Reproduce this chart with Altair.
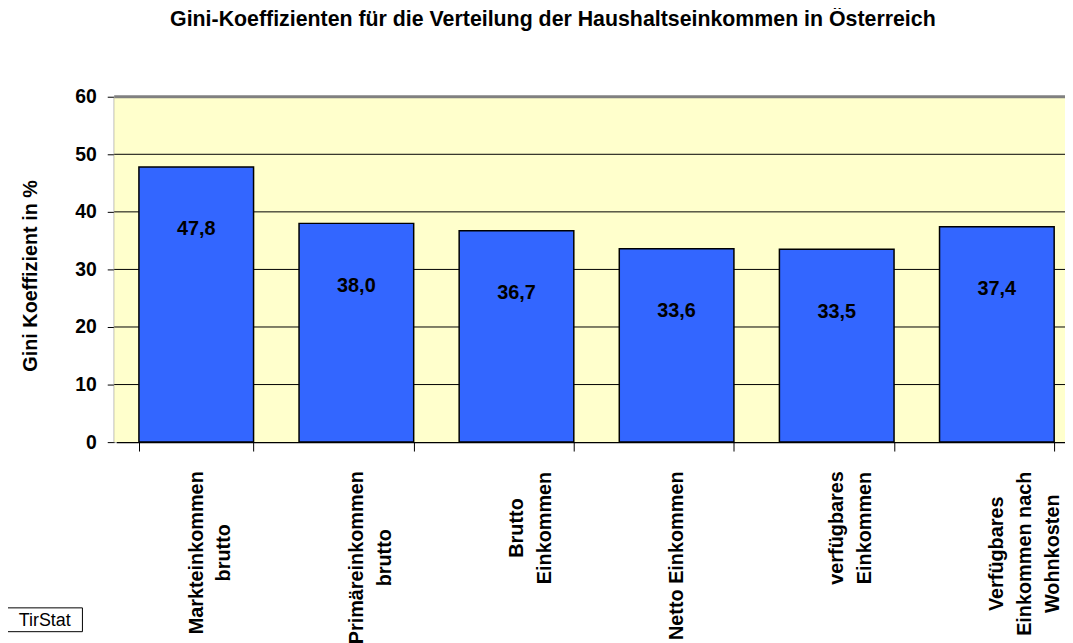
import altair as alt
import pandas as pd

# ---- data ----
categories = [
    "Markteinkommen|brutto",
    "Primäreinkommen|brutto",
    "Brutto|Einkommen",
    "Netto Einkommen",
    "verfügbares|Einkommen",
    "Verfügbares|Einkommen nach|Wohnkosten",
]
gini_values = [47.8, 38.0, 36.7, 33.6, 33.5, 37.4]
y_ticks = [0, 10, 20, 30, 40, 50, 60]
chart_title = "Gini-Koeffizienten für die Verteilung der Haushaltseinkommen in Österreich"
y_title = "Gini Koeffizient in %"
source_note = "TirStat"

df = pd.DataFrame({"kategorie": categories, "gini": gini_values})
grid_df = pd.DataFrame({"v": y_ticks})

FONT = "Liberation Sans"
Y_SCALE = alt.Scale(domain=[0, 60], nice=False)

# per-label padding so that every rotated label block starts at the same distance
label_padding = [102, 107, 77, 105, 77, 103]
pad_cond = [
    {"test": "datum.value === " + repr(c), "value": p}
    for c, p in zip(categories, label_padding)
]

x_axis = alt.Axis(
    title=None,
    labelAngle=270,
    labelAlign="center",
    labelBaseline="middle",
    labelExpr="split(datum.label, '|')",
    labelFontSize=20,
    labelFontWeight="bold",
    labelFont=FONT,
    labelColor="black",
    labelLineHeight=28,
    labelLimit=0,
    labelOverlap=False,
    labelPadding={"condition": pad_cond, "value": 100},
    tickBand="extent",
    tickSize=9,
    tickColor="black",
    tickWidth=1,
    domainColor="black",
    domainWidth=1.5,
)

y_axis = alt.Axis(
    title=y_title,
    values=y_ticks,
    grid=False,
    tickSize=7,
    tickColor="black",
    labelFontSize=19.5,
    labelFontWeight="bold",
    labelFont=FONT,
    labelColor="black",
    labelPadding=11,
    domainColor="#808080",
    domainWidth=2,
    titleFontSize=20,
    titleFontWeight="bold",
    titleFont=FONT,
    titleColor="black",
    titleAngle=270,
    titleAlign="center",
    titleBaseline="middle",
    titleX=-84,
    titleY=180,
)

# plot-area background
plot_bg = alt.Chart(alt.Data(values=[{}])).mark_rect(fill="#FFFFCC").encode(
    x=alt.value(0), x2=alt.value("width"), y=alt.value(0), y2=alt.value("height")
)

# horizontal gridlines (top one is the grey plot-area border)
grid_inner = alt.Chart(grid_df).transform_filter("datum.v > 0 && datum.v < 60").mark_rule(
    color="black", strokeWidth=1
).encode(y=alt.Y("v:Q", scale=Y_SCALE, axis=y_axis))
grid_top = alt.Chart(grid_df).transform_filter("datum.v == 60").mark_rule(
    color="#808080", strokeWidth=3
).encode(y=alt.Y("v:Q", scale=Y_SCALE, axis=y_axis))

base = alt.Chart(df).encode(
    x=alt.X(
        "kategorie:N",
        sort=categories,
        axis=x_axis,
        scale=alt.Scale(range=[2, 970], paddingInner=0.284, paddingOuter=0.142),
    ),
    y=alt.Y("gini:Q", axis=y_axis, scale=Y_SCALE),
)

bars = base.mark_bar(color="#3366FF", stroke="black", strokeWidth=1.5)

labels = base.transform_calculate(
    lab="replace(format(datum.gini, '.1f'), '.', ',')"
).mark_text(
    dy=63, fontSize=20, fontWeight="bold", font=FONT, color="black"
).encode(text="lab:N")

note_data = alt.Data(values=[{"t": source_note}])
note_box = alt.Chart(note_data).mark_rect(
    fill="white", stroke="black", strokeWidth=1
).encode(
    x=alt.value(-108), x2=alt.value(-32), y=alt.value(515), y2=alt.value(539)
)
note_text = alt.Chart(note_data).mark_text(
    fontSize=18, font=FONT, color="black", align="center", baseline="middle"
).encode(x=alt.value(-70), y=alt.value(528), text="t:N")

chart = (
    alt.layer(plot_bg, grid_inner, grid_top, bars, labels, note_box, note_text)
    .properties(
        width=958,
        height=348,
        title=alt.TitleParams(
            chart_title,
            fontSize=21.5,
            fontWeight="bold",
            font=FONT,
            color="black",
            anchor="middle",
            frame="group",
            dx=-37,
            offset=57,
        ),
        autosize=alt.AutoSizeParams(type="none"),
        padding={"left": 107, "top": 87, "right": 0, "bottom": 200},
    )
    .configure_view(strokeWidth=0)
    .configure(background="white")
)

chart.save("out.html", embed_options={"renderer": "svg", "actions": False})
